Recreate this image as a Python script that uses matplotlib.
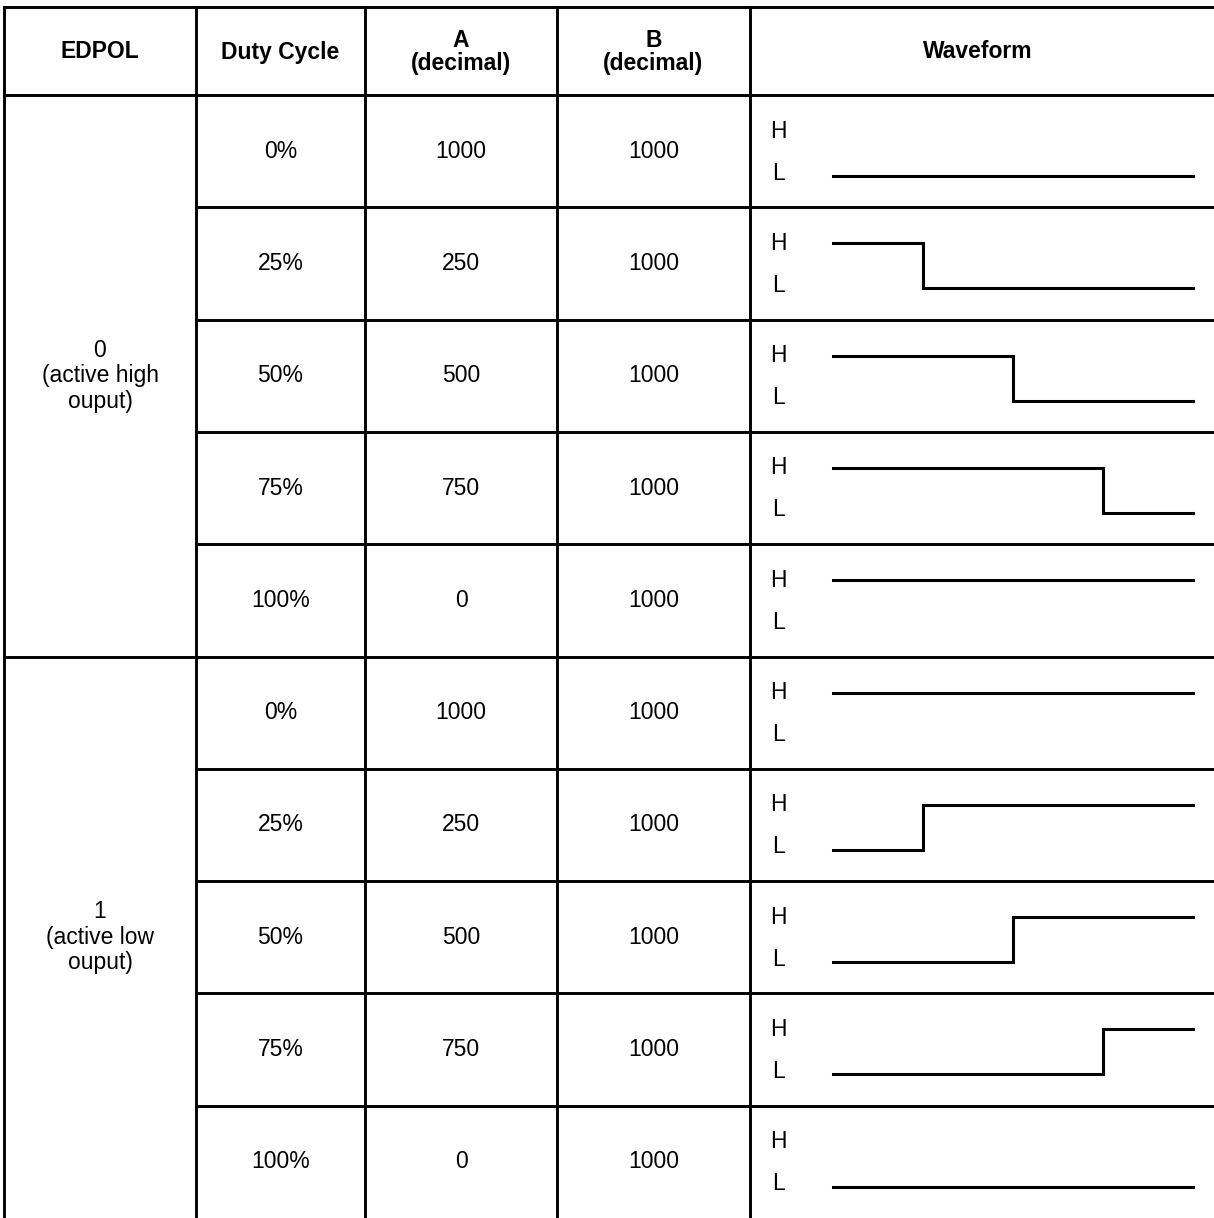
import numpy as np
import matplotlib.pyplot as plt

plt.rcParams['font.family'] = ['Liberation Sans', 'DejaVu Sans']

# table content
headers = ["EDPOL", "Duty Cycle", "A\n(decimal)", "B\n(decimal)", "Waveform"]
edpol_labels = ["0\n(active high\nouput)", "1\n(active low\nouput)"]
duty = [0, 25, 50, 75, 100]
duty_labels = ["0%", "25%", "50%", "75%", "100%"]
a_vals = [1000, 250, 500, 750, 0]
b_vals = [1000, 1000, 1000, 1000, 1000]

# layout (pixels)
W, H = 1214, 1218
col_x = [4, 196, 365, 557, 750, 1214]
top, head_bot = 7, 95
row_h = (H - head_bot) / 10
wave_x0, wave_x1 = 833, 1193
fs = 16.5

fig = plt.figure(figsize=(W / 100, H / 100), dpi=100)
ax = fig.add_axes([0, 0, 1, 1])
ax.set_xlim(0, W); ax.set_ylim(H, 0)
ax.axis('off')

lw_grid = 2.1
# horizontal lines
ax.plot([col_x[0], W], [top, top], color='black', lw=lw_grid)
ax.plot([col_x[0], W], [head_bot, head_bot], color='black', lw=lw_grid)
for i in range(1, 10):
    y = head_bot + i * row_h
    x_start = col_x[0] if i == 5 else col_x[1]
    ax.plot([x_start, W], [y, y], color='black', lw=lw_grid)
# vertical lines
for x in col_x[:5]:
    ax.plot([x, x], [top, H + 5], color='black', lw=lw_grid)

# header
for j, h in enumerate(headers):
    cx = (col_x[j] + col_x[j + 1]) / 2
    if j == 4:
        cx = 978
    ax.text(cx, (top + head_bot) / 2 + 1, h, ha='center', va='center',
            fontsize=fs, fontweight='bold', linespacing=1.05)

# EDPOL group labels
for g, lab in enumerate(edpol_labels):
    cy = head_bot + (g * 5 + 2.5) * row_h
    ax.text((col_x[0] + col_x[1]) / 2, cy, lab, ha='center', va='center',
            fontsize=fs, linespacing=1.15)

for g in range(2):
    for i in range(5):
        r = g * 5 + i
        y0 = head_bot + r * row_h
        cy = y0 + row_h / 2
        ax.text((col_x[1] + col_x[2]) / 2, cy, duty_labels[i], ha='center', va='center', fontsize=fs)
        ax.text((col_x[2] + col_x[3]) / 2, cy, str(a_vals[i]), ha='center', va='center', fontsize=fs)
        ax.text((col_x[3] + col_x[4]) / 2, cy, str(b_vals[i]), ha='center', va='center', fontsize=fs)
        yh, yl = y0 + 36, y0 + 81
        ax.text(778, yh, "H", ha='center', va='center', fontsize=fs)
        ax.text(778, yl - 3, "L", ha='center', va='center', fontsize=fs)
        # waveform: EDPOL 0 high during duty, EDPOL 1 low during duty
        first, second = (yh, yl) if g == 0 else (yl, yh)
        d = duty[i] / 100
        xe = wave_x0 + d * (wave_x1 - wave_x0)
        if d == 0:
            xs, ys = [wave_x0, wave_x1], [second, second]
        elif d == 1:
            xs, ys = [wave_x0, wave_x1], [first, first]
        else:
            xs = [wave_x0, xe, xe, wave_x1]
            ys = [first, first, second, second]
        ax.plot(xs, ys, color='black', lw=2.2, solid_joinstyle='miter')

fig.savefig("out.png", dpi=100, facecolor='white')
